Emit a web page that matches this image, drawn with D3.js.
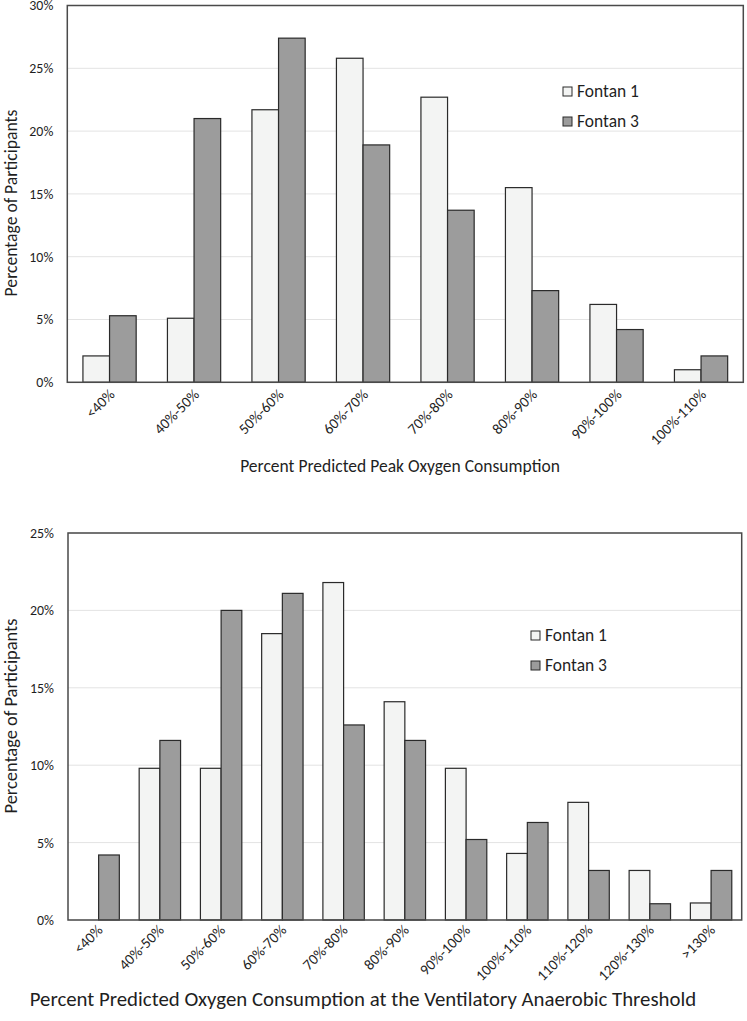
<!DOCTYPE html>
<html>
<head>
<meta charset="utf-8">
<script src="https://cdn.jsdelivr.net/npm/d3@7"></script>
<style>
  body { margin: 0; background: #ffffff; }
  text { font-family: Carlito, Lato, "Open Sans", sans-serif; fill: #1f1f1f; }
</style>
</head>
<body>
<script>
// series names
var seriesNames = ["Fontan 1", "Fontan 3"];

// upper chart: percent predicted peak VO2
var peakCategories = ["<40%", "40%-50%", "50%-60%", "60%-70%", "70%-80%", "80%-90%", "90%-100%", "100%-110%"];
var peakFontan1 = [2.1, 5.1, 21.7, 25.8, 22.7, 15.5, 6.2, 1.0];
var peakFontan3 = [5.3, 21.0, 27.4, 18.9, 13.7, 7.3, 4.2, 2.1];
var peakTicks = [0, 5, 10, 15, 20, 25, 30];

// lower chart: percent predicted VO2 at the ventilatory anaerobic threshold
var vatCategories = ["<40%", "40%-50%", "50%-60%", "60%-70%", "70%-80%", "80%-90%", "90%-100%", "100%-110%", "110%-120%", "120%-130%", ">130%"];
var vatFontan1 = [0, 9.8, 9.8, 18.5, 21.8, 14.1, 9.8, 4.3, 7.6, 3.2, 1.1];
var vatFontan3 = [4.2, 11.6, 20.0, 21.1, 12.6, 11.6, 5.2, 6.3, 3.2, 1.05, 3.2];
var vatTicks = [0, 5, 10, 15, 20, 25];

var width = 747;
var height = 1021;
var fills = ["#f3f4f3", "#9c9c9c"];

var svg = d3.select("body")
  .append("svg")
  .attr("width", width)
  .attr("height", height);

// scale a font size so that a sample text gets the wanted width
function fitSize(sample, wanted) {
  var probe = svg.append("text").style("font-size", "20px").text(sample);
  var w = probe.node().getComputedTextLength();
  probe.remove();
  return 20 * wanted / w;
}

function drawChart(cfg) {
  var g = svg.append("g");

  // scales
  var xScale = d3.scaleBand()
    .domain(cfg.categories)
    .range([cfg.left, cfg.right])
    .paddingInner(cfg.gap)
    .paddingOuter(cfg.gap / 2);
  var subScale = d3.scaleBand()
    .domain(seriesNames)
    .range([0, xScale.bandwidth()]);
  var yScale = d3.scaleLinear()
    .domain([0, d3.max(cfg.ticks)])
    .range([cfg.bottom, cfg.top]);

  // gridlines
  g.append("g")
    .selectAll("line")
    .data(cfg.ticks)
    .enter()
    .append("line")
    .attr("x1", cfg.left)
    .attr("x2", cfg.right)
    .attr("y1", function(d) { return yScale(d); })
    .attr("y2", function(d) { return yScale(d); })
    .attr("stroke", "#e3e3e3")
    .attr("stroke-width", 1);

  // y axis labels
  var yAxis = d3.axisLeft(yScale)
    .tickValues(cfg.ticks)
    .tickSize(0)
    .tickPadding(14)
    .tickFormat(function(d) { return d + "%"; });
  var yg = g.append("g")
    .attr("transform", "translate(" + cfg.left + ",0)")
    .call(yAxis);
  yg.attr("font-family", null);
  yg.select(".domain").remove();
  yg.selectAll("text")
    .style("font-size", fitSize("25%", cfg.yTickWidth) + "px")
    .attr("fill", "#1f1f1f");

  // bars
  var series = [cfg.fontan1, cfg.fontan3];
  series.forEach(function(values, s) {
    g.append("g")
      .selectAll("rect")
      .data(values)
      .enter()
      .append("rect")
      .attr("x", function(d, i) { return xScale(cfg.categories[i]) + subScale(seriesNames[s]); })
      .attr("y", function(d) { return yScale(d); })
      .attr("width", subScale.bandwidth())
      .attr("height", function(d) { return cfg.bottom - yScale(d); })
      .attr("fill", fills[s])
      .attr("stroke", function(d) { return d > 0 ? "#2a2a2a" : "none"; })
      .attr("stroke-width", 1.2);
  });

  // plot frame
  g.append("rect")
    .attr("x", cfg.left)
    .attr("y", cfg.top)
    .attr("width", cfg.right - cfg.left)
    .attr("height", cfg.bottom - cfg.top)
    .attr("fill", "none")
    .attr("stroke", "#4a4a4a")
    .attr("stroke-width", 1.5);

  // x axis labels, rotated
  var xAxis = d3.axisBottom(xScale).tickSize(0).tickPadding(0);
  var xg = g.append("g")
    .attr("transform", "translate(0," + cfg.bottom + ")")
    .call(xAxis);
  xg.attr("font-family", null);
  xg.select(".domain").remove();
  xg.selectAll("text")
    .style("font-size", cfg.labelSize + "px")
    .style("text-anchor", "end")
    .attr("fill", "#1f1f1f")
    .attr("dy", "0")
    .attr("y", 0)
    .attr("transform", "translate(" + cfg.labelDx + "," + cfg.labelDy + ") rotate(-45)");

  // axis titles
  g.append("text")
    .attr("x", cfg.xTitleX)
    .attr("y", cfg.xTitleY)
    .attr("text-anchor", "middle")
    .style("font-size", fitSize(cfg.xTitle, cfg.xTitleWidth) + "px")
    .text(cfg.xTitle);
  g.append("text")
    .attr("transform", "translate(" + cfg.yTitleX + "," + cfg.yTitleY + ") rotate(-90)")
    .attr("text-anchor", "middle")
    .style("font-size", fitSize("Percentage of Participants", cfg.yTitleWidth) + "px")
    .text("Percentage of Participants");

  // legend
  var legendSize = fitSize("Fontan 1", 62);
  var legend = g.append("g")
    .attr("transform", "translate(" + cfg.legendX + "," + cfg.legendY + ")");
  seriesNames.forEach(function(name, s) {
    legend.append("rect")
      .attr("x", 0)
      .attr("y", s * cfg.legendStep)
      .attr("width", 9)
      .attr("height", 9)
      .attr("fill", fills[s])
      .attr("stroke", "#2a2a2a")
      .attr("stroke-width", 1);
    legend.append("text")
      .attr("x", 14)
      .attr("y", s * cfg.legendStep + 9.5)
      .style("font-size", legendSize + "px")
      .text(name);
  });
}

drawChart({
  categories: peakCategories,
  fontan1: peakFontan1,
  fontan3: peakFontan3,
  ticks: peakTicks,
  left: 67.3, right: 743.3, top: 5.5, bottom: 382.3,
  gap: 0.37,
  yTickWidth: 24,
  labelSize: 15,
  labelDx: 6, labelDy: 13,
  xTitle: "Percent Predicted Peak Oxygen Consumption",
  xTitleX: 400, xTitleY: 472, xTitleWidth: 320,
  yTitleX: 17, yTitleY: 203, yTitleWidth: 187,
  legendX: 563, legendY: 87, legendStep: 30
});

drawChart({
  categories: vatCategories,
  fontan1: vatFontan1,
  fontan3: vatFontan3,
  ticks: vatTicks,
  left: 68, right: 741.7, top: 533, bottom: 920,
  gap: 0.324,
  yTickWidth: 24,
  labelSize: 15,
  labelDx: 5, labelDy: 11,
  xTitle: "Percent Predicted Oxygen Consumption at the Ventilatory Anaerobic Threshold",
  xTitleX: 363, xTitleY: 1006, xTitleWidth: 667,
  yTitleX: 17, yTitleY: 716, yTitleWidth: 195,
  legendX: 531, legendY: 631, legendStep: 30
});
</script>
</body>
</html>
